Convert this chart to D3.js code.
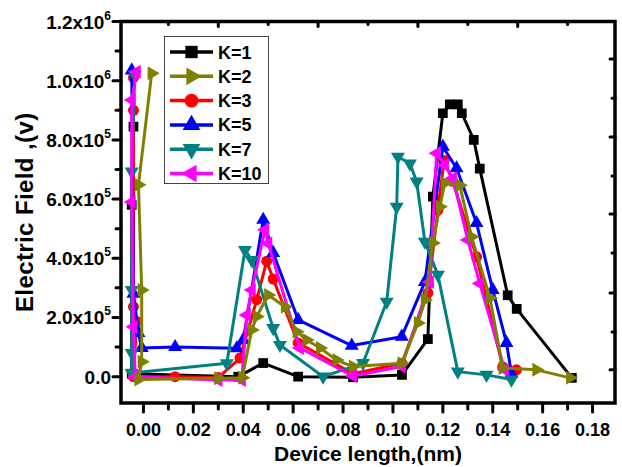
<!DOCTYPE html>
<html>
<head>
<meta charset="utf-8">
<script src="https://cdn.jsdelivr.net/npm/d3@7"></script>
<style>
body{margin:0;background:#fff;}
text{font-family:"Liberation Sans",Arial,sans-serif;font-weight:bold;fill:#000;}
</style>
</head>
<body>
<svg id="chart" width="622" height="467"></svg>
<script>
// ---- data ----
const seriesNames = ["K=1","K=2","K=3","K=5","K=7","K=10"];
const seriesColors = ["#000000","#808000","#ff0000","#0000ff","#008080","#ff00ff"];
const k1 = [[-0.004,845000],[-0.0047,580000],[-0.0047,10000],[0.038,0],[0.048,46000],[0.062,0],[0.084,-2000],[0.1036,6000],[0.114,127000],[0.116,608000],[0.120,890000],[0.1228,920000],[0.126,920000],[0.1276,890000],[0.1324,800000],[0.1348,703000],[0.146,275000],[0.1496,229000],[0.1717,-4000]];
const k2 = [[0.0033,1025000],[-0.002,648000],[-0.0007,293000],[-0.0007,50000],[-0.002,-10000],[0.030,-5000],[0.0396,-4000],[0.0434,158000],[0.0454,203000],[0.050,276000],[0.0567,236000],[0.0614,152000],[0.0654,124000],[0.0708,97000],[0.0774,56000],[0.084,34000],[0.1035,45000],[0.110,181000],[0.1128,259000],[0.116,452000],[0.1188,574000],[0.1208,654000],[0.1268,647000],[0.1315,473000],[0.1389,266000],[0.144,29000],[0.1575,23000],[0.171,-4000]];
const k3 = [[-0.004,1010000],[-0.004,900000],[-0.004,236000],[-0.0027,186000],[-0.004,0],[0.0127,0],[0.030,-3000],[0.0387,63000],[0.0454,260000],[0.0494,390000],[0.052,330000],[0.062,114000],[0.084,10000],[0.1036,45000],[0.114,283000],[0.118,563000],[0.1205,730000],[0.124,660000],[0.1335,405000],[0.144,33000],[0.1495,23000]];
const k5 = [[-0.0047,1035000],[-0.004,280000],[-0.002,148000],[-0.0007,97000],[0.0127,100000],[0.0374,96000],[0.040,124000],[0.048,530000],[0.052,418000],[0.062,192000],[0.0835,105000],[0.1035,135000],[0.1128,320000],[0.120,777000],[0.1255,704000],[0.1335,519000],[0.140,293000],[0.1455,114000],[0.1475,10000]];
const k7 = [[-0.0035,1020000],[-0.0047,693000],[-0.0047,293000],[-0.0047,80000],[-0.0047,12000],[0.0334,45000],[0.0407,428000],[0.0434,394000],[0.052,164000],[0.0547,107000],[0.072,0],[0.088,46000],[0.0975,253000],[0.1015,574000],[0.102,743000],[0.1068,720000],[0.1095,659000],[0.1128,456000],[0.118,344000],[0.126,17000],[0.1375,6000],[0.1475,-10000]];
const k10 = [[-0.0027,1030000],[-0.0047,935000],[-0.0047,590000],[-0.004,169000],[-0.0033,0],[0.030,-11000],[0.0394,-11000],[0.0414,208000],[0.0434,293000],[0.0487,496000],[0.050,450000],[0.0627,97000],[0.084,2000],[0.1035,34000],[0.1148,320000],[0.1175,755000],[0.1208,715000],[0.124,670000],[0.130,462000],[0.1348,315000],[0.1448,23000]];
const seriesData = [k1,k2,k3,k5,k7,k10];
const drawOrder = [0,2,3,4,5,1];
const xTickVals = [0,0.02,0.04,0.06,0.08,0.10,0.12,0.14,0.16,0.18];
const xTickLabels = ["0.00","0.02","0.04","0.06","0.08","0.10","0.12","0.14","0.16","0.18"];
const xMinorVals = [0.01,0.03,0.05,0.07,0.09,0.11,0.13,0.15,0.17];
const yTickVals = [0,200000,400000,600000,800000,1000000,1200000];
const yTickMant = ["0.0","2.0x10","4.0x10","6.0x10","8.0x10","1.0x10","1.2x10"];
const yTickExp = ["","5","5","5","5","6","6"];
const yMinorVals = [100000,300000,500000,700000,900000,1100000];
const topTickVals = [0.01,0.03,0.05,0.07,0.09,0.11,0.13,0.15,0.17];
const rightTickVals = [23000,151000,283000,418000,550000,678000,810000,941000,1073000];

// ---- layout ----
const L=121, R=615, T=21.5, B=403;
const svg = d3.select("#chart");
const x = d3.scaleLinear().domain([-0.009,0.189]).range([L,R]);
const y = d3.scaleLinear().domain([-89000,1200000]).range([B,T]);

const symbols = [
  {type:d3.symbolSquare,size:95,rot:0},
  {type:d3.symbolTriangle,size:85,rot:90},
  {type:d3.symbolCircle,size:95,rot:0},
  {type:d3.symbolTriangle,size:85,rot:0},
  {type:d3.symbolTriangle,size:85,rot:180},
  {type:d3.symbolTriangle,size:85,rot:-90}
];

svg.append("clipPath").attr("id","clip").append("rect")
  .attr("x",L).attr("y",T).attr("width",R-L).attr("height",B-T);

const line = d3.line().x(d=>x(d[0])).y(d=>y(d[1]));
const plot = svg.append("g").attr("clip-path","url(#clip)");
drawOrder.forEach(i=>{
  const g = plot.append("g");
  g.append("path").datum(seriesData[i]).attr("d",line)
    .attr("fill","none").attr("stroke",seriesColors[i]).attr("stroke-width",3).attr("stroke-linejoin","round");
  const s = symbols[i];
  g.selectAll("path.m").data(seriesData[i]).join("path").attr("class","m")
    .attr("d",d3.symbol().type(s.type).size(s.size))
    .attr("transform",d=>`translate(${x(d[0])},${y(d[1])}) rotate(${s.rot})`)
    .attr("fill",seriesColors[i]);
});

// ---- axes ----
const tk = svg.append("g").attr("stroke","#000").attr("stroke-width",3).attr("stroke-linecap","round");
xTickVals.forEach(v=>tk.append("line").attr("x1",x(v)).attr("x2",x(v)).attr("y1",B).attr("y2",B+9));
xMinorVals.forEach(v=>tk.append("line").attr("x1",x(v)).attr("x2",x(v)).attr("y1",B).attr("y2",B+6));
yTickVals.forEach(v=>tk.append("line").attr("x1",L).attr("x2",L-8).attr("y1",y(v)).attr("y2",y(v)));
yMinorVals.forEach(v=>tk.append("line").attr("x1",L).attr("x2",L-5).attr("y1",y(v)).attr("y2",y(v)));
topTickVals.forEach((v,i)=>tk.append("line").attr("x1",x(v)).attr("x2",x(v)).attr("y1",T).attr("y2",T+(i%2?5:3)));
rightTickVals.forEach((v,i)=>tk.append("line").attr("x1",R).attr("x2",R-(i%2?3:5)).attr("y1",y(v)).attr("y2",y(v)));

svg.append("rect").attr("x",L).attr("y",T).attr("width",R-L).attr("height",B-T)
  .attr("fill","none").attr("stroke","#000").attr("stroke-width",3.5);

svg.selectAll("text.xl").data(xTickVals).join("text").attr("class","xl")
  .attr("x",d=>x(d)).attr("y",B+33).attr("text-anchor","middle").attr("font-size",18)
  .text((d,i)=>xTickLabels[i]);

yTickVals.forEach((v,i)=>{
  const t = svg.append("text").attr("x",111).attr("y",y(v)+7).attr("text-anchor","end").attr("font-size",19);
  t.append("tspan").text(yTickMant[i]);
  if(yTickExp[i]) t.append("tspan").attr("font-size",12).attr("dy",-9).text(yTickExp[i]);
});

svg.append("text").attr("x",(L+R)/2).attr("y",461).attr("text-anchor","middle").attr("font-size",21)
  .text("Device length,(nm)");
svg.append("text").attr("transform",`translate(33,${(T+B)/2}) rotate(-90)`).attr("text-anchor","middle").attr("font-size",24)
  .attr("letter-spacing",0.4).text("Electric Field ,(v)");

// ---- legend ----
const lg = svg.append("g");
lg.append("rect").attr("x",164.5).attr("y",36.5).attr("width",104).attr("height",147)
  .attr("fill","#fff").attr("stroke","#444").attr("stroke-width",1);
seriesNames.forEach((n,i)=>{
  const yy = 52 + i*24.3;
  lg.append("line").attr("x1",170).attr("x2",213).attr("y1",yy).attr("y2",yy)
    .attr("stroke",seriesColors[i]).attr("stroke-width",3.5);
  const s = symbols[i];
  lg.append("path").attr("d",d3.symbol().type(s.type).size(s.size*1.6)())
    .attr("transform",`translate(191.5,${yy}) rotate(${s.rot})`).attr("fill",seriesColors[i]);
  lg.append("text").attr("x",218).attr("y",yy+6.5).attr("font-size",18).text(n);
});
</script>
</body>
</html>
